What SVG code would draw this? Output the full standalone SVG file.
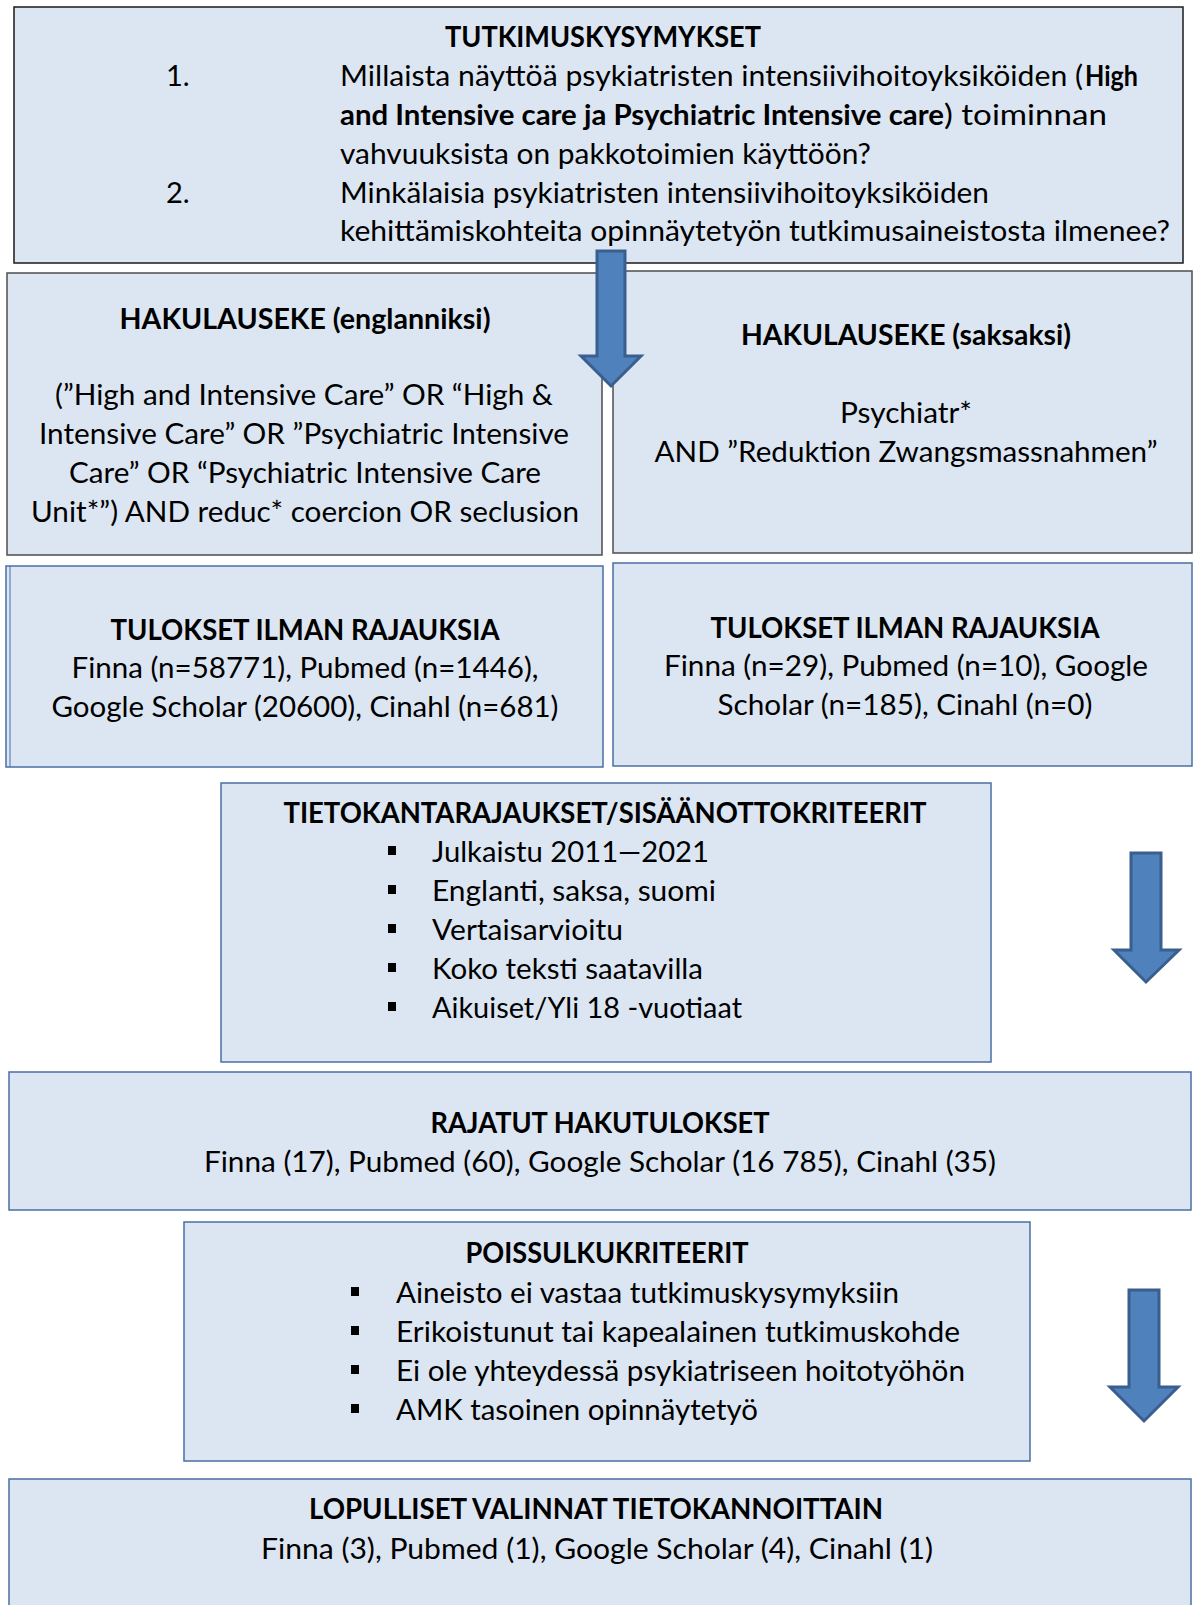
<svg xmlns="http://www.w3.org/2000/svg" width="1193" height="1605" viewBox="0 0 1193 1605">
<style>
.box{fill:#DCE6F2;stroke-width:1.5}
.k{stroke:#1a1a1a}
.g{stroke:#4d4d4d;stroke-width:1.5}
.b{stroke:#4A6FA5}
text{font-family:Lato,"Liberation Sans",sans-serif;font-size:29px;fill:#000}
.t{font-weight:bold}
.c{text-anchor:middle}
.arrow{fill:#4F81BD;stroke:#3A5F8E;stroke-width:3;stroke-linejoin:miter}
.bul{fill:#000}
</style>
<rect width="1193" height="1605" fill="#fff"/>

<g id="tutkimuskysymykset">
<rect class="box k" x="14" y="7" width="1169" height="256"/>
<text class="t c" x="603" y="47" textLength="316" lengthAdjust="spacingAndGlyphs">TUTKIMUSKYSYMYKSET</text>
<text x="166" y="86">1.</text>
<text x="340" y="86" textLength="743" lengthAdjust="spacingAndGlyphs">Millaista näyttöä psykiatristen intensiivihoitoyksiköiden (</text>
<text class="t" x="1085" y="86" textLength="53" lengthAdjust="spacingAndGlyphs">High</text>
<text class="t" x="340" y="125" textLength="604" lengthAdjust="spacingAndGlyphs">and Intensive care ja Psychiatric Intensive care</text>
<text x="944" y="125" textLength="163" lengthAdjust="spacingAndGlyphs">) toiminnan</text>
<text x="340" y="164" textLength="531" lengthAdjust="spacingAndGlyphs">vahvuuksista on pakkotoimien käyttöön?</text>
<text x="166" y="203">2.</text>
<text x="340" y="203" textLength="649" lengthAdjust="spacingAndGlyphs">Minkälaisia psykiatristen intensiivihoitoyksiköiden</text>
<text x="340" y="241" textLength="830" lengthAdjust="spacingAndGlyphs">kehittämiskohteita opinnäytetyön tutkimusaineistosta ilmenee?</text>
</g>

<g id="hakulauseke-en">
<rect class="box g" x="7" y="273" width="595" height="282"/>
<text class="t c" x="305" y="329" textLength="371" lengthAdjust="spacingAndGlyphs">HAKULAUSEKE (englanniksi)</text>
<text class="c" x="304" y="405" textLength="498" lengthAdjust="spacingAndGlyphs">(”High and Intensive Care” OR “High &amp;</text>
<text class="c" x="304" y="444" textLength="530" lengthAdjust="spacingAndGlyphs">Intensive Care” OR ”Psychiatric Intensive</text>
<text class="c" x="305" y="483" textLength="472" lengthAdjust="spacingAndGlyphs">Care” OR “Psychiatric Intensive Care</text>
<text class="c" x="305" y="522" textLength="548" lengthAdjust="spacingAndGlyphs">Unit*”) AND reduc* coercion OR seclusion</text>
</g>

<g id="hakulauseke-de">
<rect class="box g" x="613" y="271" width="579" height="282"/>
<text class="t c" x="906" y="345" textLength="330" lengthAdjust="spacingAndGlyphs">HAKULAUSEKE (saksaksi)</text>
<text class="c" x="906" y="423" textLength="132" lengthAdjust="spacingAndGlyphs">Psychiatr*</text>
<text class="c" x="906" y="462" textLength="503" lengthAdjust="spacingAndGlyphs">AND ”Reduktion Zwangsmassnahmen”</text>
</g>

<g id="tulokset-en">
<rect class="box b" x="6" y="566" width="597" height="201"/>
<line x1="10" y1="566" x2="10" y2="767" stroke="#4A6FA5" stroke-width="1"/>
<text class="t c" x="305" y="640" textLength="389" lengthAdjust="spacingAndGlyphs">TULOKSET ILMAN RAJAUKSIA</text>
<text class="c" x="305" y="678" textLength="467" lengthAdjust="spacingAndGlyphs">Finna (n=58771), Pubmed (n=1446),</text>
<text class="c" x="305" y="717" textLength="507" lengthAdjust="spacingAndGlyphs">Google Scholar (20600), Cinahl (n=681)</text>
</g>

<g id="tulokset-de">
<rect class="box b" x="613" y="563" width="579" height="203"/>
<text class="t c" x="905" y="638" textLength="389" lengthAdjust="spacingAndGlyphs">TULOKSET ILMAN RAJAUKSIA</text>
<text class="c" x="906" y="676" textLength="484" lengthAdjust="spacingAndGlyphs">Finna (n=29), Pubmed (n=10), Google</text>
<text class="c" x="905" y="715" textLength="375" lengthAdjust="spacingAndGlyphs">Scholar (n=185), Cinahl (n=0)</text>
</g>

<g id="tietokantarajaukset">
<rect class="box b" x="221" y="783" width="770" height="279"/>
<text class="t c" x="605" y="823" textLength="643" lengthAdjust="spacingAndGlyphs">TIETOKANTARAJAUKSET/SISÄÄNOTTOKRITEERIT</text>
<rect class="bul" x="388" y="846" width="8" height="9"/>
<text x="432" y="862" textLength="277" lengthAdjust="spacingAndGlyphs">Julkaistu 2011—2021</text>
<rect class="bul" x="388" y="885" width="8" height="9"/>
<text x="432" y="901" textLength="284" lengthAdjust="spacingAndGlyphs">Englanti, saksa, suomi</text>
<rect class="bul" x="388" y="924" width="8" height="9"/>
<text x="432" y="940" textLength="191" lengthAdjust="spacingAndGlyphs">Vertaisarvioitu</text>
<rect class="bul" x="388" y="963" width="8" height="9"/>
<text x="432" y="979" textLength="271" lengthAdjust="spacingAndGlyphs">Koko teksti saatavilla</text>
<rect class="bul" x="388" y="1002" width="8" height="9"/>
<text x="432" y="1018" textLength="310" lengthAdjust="spacingAndGlyphs">Aikuiset/Yli 18 -vuotiaat</text>
</g>

<g id="rajatut-hakutulokset">
<rect class="box b" x="9" y="1072" width="1182" height="138"/>
<text class="t c" x="600" y="1133" textLength="339" lengthAdjust="spacingAndGlyphs">RAJATUT HAKUTULOKSET</text>
<text class="c" x="600" y="1172" textLength="792" lengthAdjust="spacingAndGlyphs">Finna (17), Pubmed (60), Google Scholar (16 785), Cinahl (35)</text>
</g>

<g id="poissulkukriteerit">
<rect class="box b" x="184" y="1222" width="846" height="239"/>
<text class="t c" x="607" y="1263" textLength="283" lengthAdjust="spacingAndGlyphs">POISSULKUKRITEERIT</text>
<rect class="bul" x="351" y="1287" width="8" height="9"/>
<text x="396" y="1303" textLength="503" lengthAdjust="spacingAndGlyphs">Aineisto ei vastaa tutkimuskysymyksiin</text>
<rect class="bul" x="351" y="1326" width="8" height="9"/>
<text x="396" y="1342" textLength="564" lengthAdjust="spacingAndGlyphs">Erikoistunut tai kapealainen tutkimuskohde</text>
<rect class="bul" x="351" y="1365" width="8" height="9"/>
<text x="396" y="1381" textLength="569" lengthAdjust="spacingAndGlyphs">Ei ole yhteydessä psykiatriseen hoitotyöhön</text>
<rect class="bul" x="351" y="1404" width="8" height="9"/>
<text x="396" y="1420" textLength="362" lengthAdjust="spacingAndGlyphs">AMK tasoinen opinnäytetyö</text>
</g>

<g id="lopulliset-valinnat">
<rect class="box b" x="9" y="1479" width="1182" height="140"/>
<text class="t c" x="596" y="1519" textLength="574" lengthAdjust="spacingAndGlyphs">LOPULLISET VALINNAT TIETOKANNOITTAIN</text>
<text class="c" x="597" y="1559" textLength="672" lengthAdjust="spacingAndGlyphs">Finna (3), Pubmed (1), Google Scholar (4), Cinahl (1)</text>
</g>

<g id="connectors">
<polygon class="arrow" points="597,251 625,251 625,356 641,356 611,386 581,356 597,356"/>
<polygon class="arrow" points="1131,853 1161,853 1161,950 1179,950 1146,982 1114,950 1131,950"/>
<polygon class="arrow" points="1129,1290 1159,1290 1159,1387 1178,1387 1144,1421 1110,1387 1129,1387"/>
</g>
</svg>
